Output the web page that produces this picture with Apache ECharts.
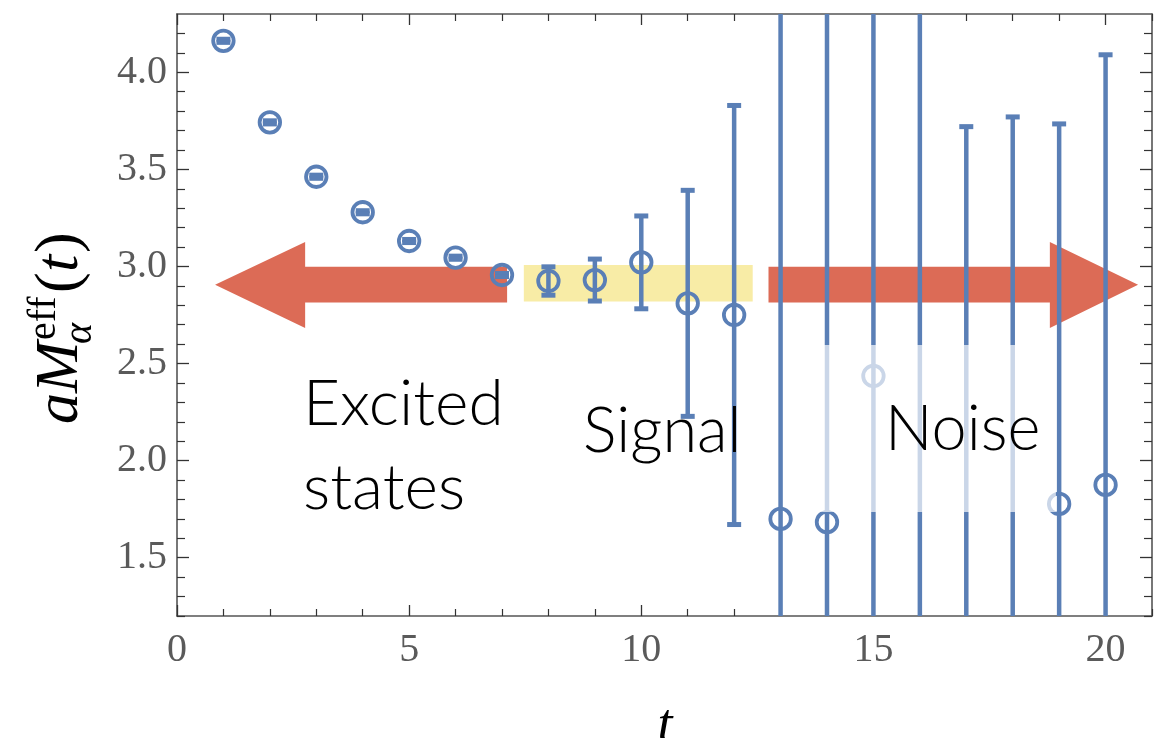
<!DOCTYPE html>
<html>
<head>
<meta charset="utf-8">
<script src="https://cdn.jsdelivr.net/npm/echarts@6/dist/echarts.min.js"></script>
<style>
html,body{margin:0;padding:0;background:#fff;}
#chart{width:1162px;height:738px;}
</style>
</head>
<body>
<div id="chart"></div>
<script>
// ---- data ----
const tValues = [1,2,3,4,5,6,7,8,9,10,11,12,13,14,15,16,17,18,19,20];
const meffValues = [4.162,3.742,3.462,3.279,3.131,3.045,2.956,2.925,2.930,3.021,2.810,2.750,1.700,1.683,2.436,0.90,0.95,0.85,1.777,1.875];
const errValues = [0.008,0.008,0.008,0.008,0.008,0.008,0.008,0.073,0.108,0.239,0.582,1.079,3.0,3.0,2.6,4.0,2.77,2.92,1.957,2.215];

const xMajorTicks = [0,5,10,15,20];
const xMinorTicks = [1,2,3,4,6,7,8,9,11,12,13,14,16,17,18,19,21];
const yMajorTicks = [1.5,2.0,2.5,3.0,3.5,4.0];
const yMinorTicks = [1.2,1.3,1.4,1.6,1.7,1.8,1.9,2.1,2.2,2.3,2.4,2.6,2.7,2.8,2.9,3.1,3.2,3.3,3.4,3.6,3.7,3.8,3.9,4.1,4.2];

// annotation regions (data coordinates)
const signalBand = [7.47, 12.40, 3.008, 2.819];           // t0, t1, yTop, yBottom
const arrowLeft  = [0.82, 2.76, 7.11];                     // tip, head base, tail
const arrowRight = [20.70, 18.80, 12.74];                  // tip, head base, tail
const arrowY = [2.906, 2.998, 2.815, 3.126, 2.683];        // centre, shaftTop, shaftBottom, headTop, headBottom
const fadeBox = [13.42, 18.93, 2.596, 1.736];              // t0, t1, yTop, yBottom

const BLUE = '#5A7FB6';
const RED = '#DC6B56';
const YELLOW = '#F8ECA6';
const AXC = '#555555';
const SERIF = '"Liberation Serif", "DejaVu Serif", serif';
const SANS = 'Lato, "Open Sans", sans-serif';

const chart = echarts.init(document.getElementById('chart'), null, {renderer:'canvas'});

function axisBase(extra){
  return Object.assign({
    type:'value', gridIndex:0,
    splitLine:{show:false},
    axisLine:{show:false, onZero:false},
    axisLabel:{show:false},
    axisTick:{show:false}
  }, extra);
}

const xAxes = [
  axisBase({min:0, max:21, position:'bottom',
    axisLine:{show:true, onZero:false, lineStyle:{color:AXC, width:1.6}},
    axisTick:{show:true, inside:true, length:11, customValues:xMajorTicks, lineStyle:{color:'#333', width:1.3}},
    axisLabel:{show:true, customValues:xMajorTicks, fontFamily:SERIF, fontSize:40, color:'#5a5a5a', margin:14}
  }),
  axisBase({min:0, max:21, position:'bottom',
    axisTick:{show:true, inside:true, length:7, customValues:xMinorTicks, lineStyle:{color:'#333', width:1.2}}
  }),
  axisBase({min:0, max:21, position:'top',
    axisLine:{show:true, onZero:false, lineStyle:{color:AXC, width:1.6}},
    axisTick:{show:true, inside:true, length:11, customValues:xMajorTicks, lineStyle:{color:'#333', width:1.3}}
  }),
  axisBase({min:0, max:21, position:'top',
    axisTick:{show:true, inside:true, length:7, customValues:xMinorTicks, lineStyle:{color:'#333', width:1.2}}
  })
];
const yAxes = [
  axisBase({min:1.2, max:4.3, position:'left',
    axisLine:{show:true, onZero:false, lineStyle:{color:AXC, width:1.6}},
    axisTick:{show:true, inside:true, length:12, customValues:yMajorTicks, lineStyle:{color:'#333', width:1.3}},
    axisLabel:{show:true, customValues:yMajorTicks, fontFamily:SERIF, fontSize:40, color:'#5a5a5a', margin:10,
      formatter:function(v){return Number(v).toFixed(1);}}
  }),
  axisBase({min:1.2, max:4.3, position:'left',
    axisTick:{show:true, inside:true, length:8, customValues:yMinorTicks, lineStyle:{color:'#333', width:1.2}}
  }),
  axisBase({min:1.2, max:4.3, position:'right',
    axisLine:{show:true, onZero:false, lineStyle:{color:AXC, width:1.6}},
    axisTick:{show:true, inside:true, length:12, customValues:yMajorTicks, lineStyle:{color:'#333', width:1.3}}
  }),
  axisBase({min:1.2, max:4.3, position:'right',
    axisTick:{show:true, inside:true, length:8, customValues:yMinorTicks, lineStyle:{color:'#333', width:1.2}}
  })
];

const pointData = tValues.map((t,i)=>[t, meffValues[i]]);
const errData = tValues.map((t,i)=>[t, meffValues[i], errValues[i]]);

function arrowPolygon(api, a){
  const tip=a[0], base=a[1], tail=a[2];
  const pts = [
    [tip, arrowY[0]], [base, arrowY[3]], [base, arrowY[1]], [tail, arrowY[1]],
    [tail, arrowY[2]], [base, arrowY[2]], [base, arrowY[4]]
  ];
  return pts.map(p=>api.coord(p));
}

const option = {
  animation:false,
  backgroundColor:'#ffffff',
  grid:{left:177, right:10, top:14, bottom:122, containLabel:false, outerBoundsMode:'none'},
  xAxis: xAxes,
  yAxis: yAxes,
  series:[
    { // signal band
      type:'custom', silent:true, z:1, xAxisIndex:0, yAxisIndex:0,
      data:[signalBand],
      renderItem:function(params, api){
        const p0 = api.coord([api.value(0), api.value(2)]);
        const p1 = api.coord([api.value(1), api.value(3)]);
        return {type:'rect', shape:{x:p0[0], y:p0[1], width:p1[0]-p0[0], height:p1[1]-p0[1]}, style:{fill:YELLOW}};
      }
    },
    { // arrows
      type:'custom', silent:true, z:2, xAxisIndex:0, yAxisIndex:0,
      data:[arrowLeft, arrowRight],
      renderItem:function(params, api){
        const a = [api.value(0), api.value(1), api.value(2)];
        return {type:'polygon', shape:{points:arrowPolygon(api, a)}, style:{fill:RED}};
      }
    },
    { // error bars
      type:'custom', silent:true, z:3, clip:true, xAxisIndex:0, yAxisIndex:0,
      data:errData,
      renderItem:function(params, api){
        const x = api.value(0), y = api.value(1), e = api.value(2);
        const top = api.coord([x, y+e]);
        const bot = api.coord([x, y-e]);
        const hw = 7;
        return {type:'group', children:[
          {type:'line', shape:{x1:top[0], y1:top[1], x2:bot[0], y2:bot[1]}, style:{stroke:BLUE, lineWidth:4.5}},
          {type:'line', shape:{x1:top[0]-hw, y1:top[1], x2:top[0]+hw, y2:top[1]}, style:{stroke:BLUE, lineWidth:5}},
          {type:'line', shape:{x1:bot[0]-hw, y1:bot[1], x2:bot[0]+hw, y2:bot[1]}, style:{stroke:BLUE, lineWidth:5}}
        ]};
      }
    },
    { // points
      type:'scatter', silent:true, z:4, clip:true, xAxisIndex:0, yAxisIndex:0,
      data:pointData,
      symbol:'circle', symbolSize:20.5,
      itemStyle:{color:'rgba(0,0,0,0)', borderColor:BLUE, borderWidth:3.8, opacity:1}
    },
    { // white label backing that fades the noise region
      type:'custom', silent:true, z:5, xAxisIndex:0, yAxisIndex:0,
      data:[fadeBox],
      renderItem:function(params, api){
        const p0 = api.coord([api.value(0), api.value(2)]);
        const p1 = api.coord([api.value(1), api.value(3)]);
        return {type:'rect', shape:{x:p0[0], y:p0[1], width:p1[0]-p0[0], height:p1[1]-p0[1]}, style:{fill:'rgba(255,255,255,0.68)'}};
      }
    }
  ],
  graphic:[
    {type:'text', z:100, x:303, y:404, style:{text:'Excited', font:'300 64px ' + SANS, fill:'#000', align:'left', verticalAlign:'middle'}},
    {type:'text', z:100, x:303, y:488, style:{text:'states', font:'300 64px ' + SANS, fill:'#000', align:'left', verticalAlign:'middle'}},
    {type:'text', z:100, x:583, y:432, style:{text:'Signal', font:'300 63px ' + SANS, fill:'#000', align:'left', verticalAlign:'middle'}},
    {type:'text', z:100, x:885, y:430, style:{text:'Noise', font:'300 63px ' + SANS, fill:'#000', align:'left', verticalAlign:'middle'}},
    {type:'text', z:100, x:665, y:727, style:{text:'t', font:'italic 54px ' + SERIF, fill:'#000', align:'center', verticalAlign:'middle'}},
    {type:'group', z:100, x:82, y:424, rotation:Math.PI/2, children:[
      {type:'text', z:100, x:0, y:-21, style:{text:'aM', font:'italic 62px ' + SERIF, fill:'#000', align:'left', verticalAlign:'middle'}},
      {type:'text', z:100, x:84, y:-38, style:{text:'eff', font:'normal 40px ' + SERIF, fill:'#000', align:'left', verticalAlign:'middle'}},
      {type:'text', z:100, x:80, y:-2, style:{text:'α', font:'italic 40px ' + SERIF, fill:'#000', align:'left', verticalAlign:'middle'}},
      {type:'text', z:100, x:131, y:-21, style:{text:'(', font:'normal 62px ' + SERIF, fill:'#000', align:'left', verticalAlign:'middle'}},
      {type:'text', z:100, x:152, y:-21, style:{text:'t', font:'italic 62px ' + SERIF, fill:'#000', align:'left', verticalAlign:'middle'}},
      {type:'text', z:100, x:171, y:-21, style:{text:')', font:'normal 62px ' + SERIF, fill:'#000', align:'left', verticalAlign:'middle'}}
    ]}
  ]
};
chart.setOption(option);
</script>
</body>
</html>
